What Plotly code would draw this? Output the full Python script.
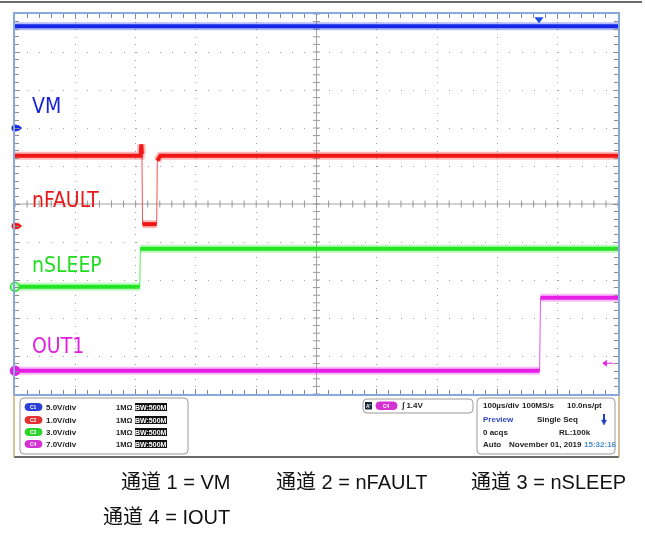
import plotly.graph_objects as go

W, H = 645, 533

# ---------------- data ----------------
time_range_us = [0, 1000]          # 100 us/div, 10 divisions
vm_t = [0, 1000]
vm_v = [13.4, 13.4]
nfault_t = [0, 208.5, 209.5, 210.5, 211.5, 235.0, 236.0, 241.0, 1000]
nfault_v = [1.85, 1.85, 2.15, 1.90, 0.05, 0.05, 1.72, 1.85, 1.85]
nsleep_t = [0, 207.0, 207.8, 1000]
nsleep_v = [0.0, 0.0, 3.0, 3.0]
out1_t = [0, 870.0, 871.5, 1000]
out1_v = [0.0, 0.0, 13.45, 13.45]

channel_names = ["VM", "nFAULT", "nSLEEP", "OUT1"]
volts_per_div = [5.0, 1.0, 3.0, 7.0]
scale_labels = ["5.0V/div", "1.0V/div", "3.0V/div", "7.0V/div"]
badge_labels = ["C1", "C2", "C3", "C4"]
trigger_level_v = 1.4
trigger_time_us = 869
captions_line1 = ["通道 1 = VM", "通道 2 = nFAULT", "通道 3 = nSLEEP"]
captions_line2 = ["通道 4 = IOUT"]

# ---------------- styling ----------------
trace_colors = ["#1428e6", "#f01616", "#22e622", "#e61ee6"]
label_colors = ["#1a22d8", "#e81818", "#22dc22", "#e020e0"]
badge_colors = ["#2a3ed8", "#e23232", "#2ed42e", "#d432d4"]
ground_div = [2.0, -0.58, -2.18, -4.39]   # channel position on screen (divisions)

X0, X1, Y0, Y1 = 15, 618, 14, 394        # screen area in pixels


def px(x):
    return x / W


def py(y):
    return 1 - y / H


fig = go.Figure()

# center cross ticks
minor_t = [i * 20 for i in range(51)]
minor_y = [-5 + i * 0.2 for i in range(51)]
fig.add_trace(go.Scatter(x=minor_t, y=[0] * len(minor_t), mode="markers",
                         marker=dict(symbol="line-ns-open", size=5, color="#9a9a9a",
                                     line=dict(color="#9a9a9a", width=1)),
                         hoverinfo="skip", showlegend=False))
fig.add_trace(go.Scatter(x=[500] * len(minor_y), y=minor_y, mode="markers",
                         marker=dict(symbol="line-ew-open", size=5, color="#9a9a9a",
                                     line=dict(color="#9a9a9a", width=1)),
                         hoverinfo="skip", showlegend=False))


def to_div(vals, k):
    return [v / volts_per_div[k] + ground_div[k] for v in vals]


def split_levels(t, d, thr=0.35):
    xs, ys = [t[0]], [d[0]]
    for i in range(1, len(t)):
        if abs(d[i] - d[i - 1]) > thr:
            xs.append(None)
            ys.append(None)
        xs.append(t[i])
        ys.append(d[i])
    return xs, ys


series = [(vm_t, vm_v), (nfault_t, nfault_v), (nsleep_t, nsleep_v), (out1_t, out1_v)]
for k, (t, v) in enumerate(series):
    d = to_div(v, k)
    col = trace_colors[k]
    fig.add_trace(go.Scatter(x=t, y=d, mode="lines", line=dict(color=col, width=1),
                             opacity=0.75, hoverinfo="skip", showlegend=False))
    xs, ys = split_levels(t, d)
    fig.add_trace(go.Scatter(x=xs, y=ys, mode="lines", line=dict(color=col, width=8),
                             opacity=0.3, hoverinfo="skip", showlegend=False, connectgaps=False))
    fig.add_trace(go.Scatter(x=xs, y=ys, mode="lines", line=dict(color=col, width=4),
                             hoverinfo="skip", showlegend=False, connectgaps=False))

# ground markers at left edge
for k in range(4):
    g = ground_div[k]
    if k < 2:
        fig.add_trace(go.Scatter(x=[0], y=[g], mode="markers", cliponaxis=False,
                                 marker=dict(symbol="circle", size=7, color=trace_colors[k]),
                                 hoverinfo="skip", showlegend=False))
        fig.add_trace(go.Scatter(x=[0, 9], y=[g, g], mode="lines", cliponaxis=False,
                                 line=dict(color=trace_colors[k], width=1.5),
                                 hoverinfo="skip", showlegend=False))
        fig.add_trace(go.Scatter(x=[7], y=[g], mode="markers", cliponaxis=False,
                                 marker=dict(symbol="triangle-right", size=6, color=trace_colors[k]),
                                 hoverinfo="skip", showlegend=False))
    else:
        fig.add_trace(go.Scatter(x=[0], y=[g], mode="markers", cliponaxis=False,
                                 marker=dict(symbol="circle", size=9,
                                             color=trace_colors[k] if k == 3 else "#bff5bf",
                                             line=dict(color=trace_colors[k], width=1.5)),
                                 hoverinfo="skip", showlegend=False))

# trigger position marker (top) and trigger level marker (right)
fig.add_trace(go.Scatter(x=[trigger_time_us], y=[4.86], mode="markers",
                         marker=dict(symbol="triangle-down", size=8, color="#1a50e0"),
                         hoverinfo="skip", showlegend=False))
trig_div = trigger_level_v / volts_per_div[3] + ground_div[3]
fig.add_trace(go.Scatter(x=[978, 992], y=[trig_div, trig_div], mode="lines",
                         line=dict(color=trace_colors[3], width=1),
                         hoverinfo="skip", showlegend=False))
fig.add_trace(go.Scatter(x=[979], y=[trig_div], mode="markers",
                         marker=dict(symbol="triangle-left", size=6, color=trace_colors[3]),
                         hoverinfo="skip", showlegend=False))

shapes = []
shapes.append(dict(type="line", xref="x", yref="y", x0=500, x1=500, y0=-5, y1=5,
                   line=dict(color="#a4a4a4", width=1), layer="between"))
shapes.append(dict(type="line", xref="x", yref="y", x0=0, x1=1000, y0=0, y1=0,
                   line=dict(color="#a4a4a4", width=1), layer="between"))

shapes.append(dict(type="line", xref="paper", yref="paper", x0=px(0), x1=px(642), y0=py(2), y1=py(2),
                   line=dict(color="#3a3a3a", width=1.5)))
shapes.append(dict(type="line", xref="paper", yref="paper", x0=px(14), x1=px(619), y0=py(457), y1=py(457),
                   line=dict(color="#3a3a3a", width=1.5)))
for xx in (14, 619):
    shapes.append(dict(type="line", xref="paper", yref="paper", x0=px(xx), x1=px(xx), y0=py(395), y1=py(457),
                       line=dict(color="#c8ae72", width=1.5)))


def rrect(x0, y0, x1, y1, r, fill=None, line_col="#9a9a9a", lw=1):
    p = (f"M {px(x0 + r)},{py(y0)} L {px(x1 - r)},{py(y0)} Q {px(x1)},{py(y0)} {px(x1)},{py(y0 + r)} "
         f"L {px(x1)},{py(y1 - r)} Q {px(x1)},{py(y1)} {px(x1 - r)},{py(y1)} "
         f"L {px(x0 + r)},{py(y1)} Q {px(x0)},{py(y1)} {px(x0)},{py(y1 - r)} "
         f"L {px(x0)},{py(y0 + r)} Q {px(x0)},{py(y0)} {px(x0 + r)},{py(y0)} Z")
    return dict(type="path", xref="paper", yref="paper", path=p,
                line=dict(color=line_col, width=lw),
                fillcolor=fill if fill else "rgba(0,0,0,0)")


shapes.append(rrect(20, 398, 188, 454, 4))
shapes.append(rrect(363, 399, 473, 413, 4))
shapes.append(rrect(477, 398, 615, 454, 4))

annotations = []


def txt(x, y, s, size=8, color="#222222", anchor="left", bold=True, family="Liberation Sans, Arial, sans-serif"):
    annotations.append(dict(xref="paper", yref="paper", x=px(x), y=py(y), text=f"<b>{s}</b>" if bold else s,
                            showarrow=False, xanchor=anchor, yanchor="middle",
                            font=dict(size=size, color=color, family=family)))


row_y = [407, 420, 432, 444]
for k in range(4):
    yy = row_y[k]
    shapes.append(rrect(25, yy - 3.5, 42, yy + 3.5, 3.5, fill=badge_colors[k], line_col=badge_colors[k]))
    txt(33.5, yy, badge_labels[k], size=5, color="white", anchor="center")
    txt(44, yy, scale_labels[k])
    txt(114, yy, "1MΩ", size=7.5)
    shapes.append(dict(type="rect", xref="paper", yref="paper", x0=px(135), x1=px(167),
                       y0=py(yy + 4), y1=py(yy - 4), fillcolor="#111111", line=dict(width=0)))
    txt(151, yy, "BW:500M", size=7, color="white", anchor="center")

shapes.append(dict(type="rect", xref="paper", yref="paper", x0=px(365), x1=px(372),
                   y0=py(409.5), y1=py(402), fillcolor="#1a2a3a", line=dict(width=0)))
txt(368.5, 405.8, "A'", size=5, color="white", anchor="center")
shapes.append(rrect(376, 402, 397, 409.5, 3.5, fill=badge_colors[3], line_col=badge_colors[3]))
txt(386.5, 405.8, "C4", size=5, color="white", anchor="center")
txt(399, 405.5, "∫ 1.4V")

txt(481, 405, "100µs/div")
txt(520, 405, "100MS/s")
txt(604, 405, "10.0ns/pt", anchor="right")
txt(481, 419, "Preview", color="#3048c0")
txt(535, 419, "Single Seq")
shapes.append(dict(type="line", xref="paper", yref="paper", x0=px(604), x1=px(604), y0=py(414), y1=py(421),
                   line=dict(color="#1e3cc8", width=2)))
shapes.append(dict(type="path", xref="paper", yref="paper",
                   path=f"M {px(601.5)},{py(420)} L {px(606.5)},{py(420)} L {px(604)},{py(425)} Z",
                   fillcolor="#1e3cc8", line=dict(color="#1e3cc8", width=0.5)))
txt(481, 432, "0 acqs")
txt(593, 432, "RL:100k", anchor="right")
txt(481, 444, "Auto")
txt(507, 444, "November 01, 2019")
txt(582, 444, "15:32:16", color="#4a90d0")

label_px = [(30, 106), (30, 200), (30, 265), (30, 346)]
for k in range(4):
    x, y = label_px[k]
    txt(x, y, channel_names[k], size=21, color=label_colors[k], bold=False,
        family="Liberation Sans Narrow, DejaVu Sans Condensed, Arial Narrow, sans-serif")

cap_family = "Liberation Sans, Arial, Noto Sans CJK SC, sans-serif"
for s, x in zip(captions_line1, [119, 274, 469]):
    txt(x, 482, s, size=20, color="#111111", bold=False, family=cap_family)
for s, x in zip(captions_line2, [101]):
    txt(x, 517, s, size=20, color="#111111", bold=False, family=cap_family)

axis_common = dict(showticklabels=False, zeroline=False, showline=True, linecolor="#86a8dc",
                   linewidth=2, mirror="ticks", ticks="inside", tickcolor="#8c8c8c", ticklen=5,
                   gridcolor="#a0a0a0", gridwidth=1, fixedrange=True)

fig.update_layout(
    width=W, height=H, margin=dict(l=0, r=0, t=0, b=0),
    paper_bgcolor="white", plot_bgcolor="white", showlegend=False,
    hovermode=False,
    xaxis=dict(domain=[px(X0), px(X1)], range=time_range_us, dtick=100, tick0=0,
               griddash="1px,6.6px",
               minor=dict(dtick=20, ticks="inside", ticklen=4, tickcolor="#8c8c8c", showgrid=False),
               **axis_common),
    yaxis=dict(domain=[py(Y1), py(Y0)], range=[-5, 5], dtick=1, tick0=0,
               griddash="1px,11.06px",
               minor=dict(dtick=0.2, ticks="inside", ticklen=4, tickcolor="#8c8c8c", showgrid=False),
               **axis_common),
    shapes=shapes, annotations=annotations,
)

fig.write_html("out.html", config={"displayModeBar": False, "staticPlot": True},
               post_script="document.body.style.margin='0';document.body.style.overflow='hidden';")
